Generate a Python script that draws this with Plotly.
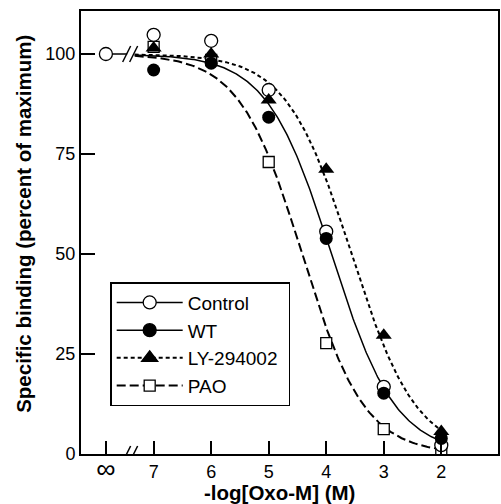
import numpy as np
import plotly.graph_objects as go

# ---- data ----
conc = [7, 6, 5, 4, 3, 2]            # -log[Oxo-M] (M)
inf_pos = 7.83                        # axis position used for "∞" (no agonist)
tick_vals = [7.83, 7, 6, 5, 4, 3, 2]
tick_text = ["<span style='font-size:27px'>∞</span>", "7", "6", "5", "4", "3", "2"]
y_ticks = [0, 25, 50, 75, 100]

control_inf = 100
control = [104.8, 103.3, 91.0, 55.6, 16.8, 2.2]
wt = [96.0, 97.7, 84.2, 53.9, 15.2, 3.9]
ly = [101.5, 100.0, 88.5, 71.2, 29.7, 5.6]
pao = [101.8, 98.5, 73.0, 27.7, 6.2, 1.2]

# fitted logistic curves: solid (Control/WT), dotted (LY-294002), dashed (PAO)
fit_pic50 = [3.91, 3.56, 4.42]
fit_hill = [0.774, 0.77, 0.80]
fit_dash = ["solid", "4px,3px", "9px,4px"]
fit_width = [1.5, 2, 2]

break_x = 7.40
curve_start = 7.33

FONT = "Liberation Sans, Arial, sans-serif"

fig = go.Figure()

# pre-break segment from the "∞" point
fig.add_trace(go.Scatter(x=[inf_pos, 7.46], y=[control_inf, control_inf], mode="lines",
                         line=dict(color="black", width=1.5), showlegend=False, hoverinfo="skip"))

xs = np.linspace(curve_start, 2, 300)
for p, n, d, w in zip(fit_pic50, fit_hill, fit_dash, fit_width):
    ys = 100.0 / (1.0 + 10 ** (n * (p - xs)))
    fig.add_trace(go.Scatter(x=xs, y=ys, mode="lines",
                             line=dict(color="black", width=w, dash=d),
                             showlegend=False, hoverinfo="skip"))

# markers
fig.add_trace(go.Scatter(x=conc, y=pao, mode="markers", showlegend=False,
                         marker=dict(symbol="square", size=11, color="white",
                                     line=dict(color="black", width=1.3))))
fig.add_trace(go.Scatter(x=[inf_pos] + conc, y=[control_inf] + control, mode="markers", showlegend=False,
                         marker=dict(symbol="circle", size=13, color="white",
                                     line=dict(color="black", width=1.3))))
fig.add_trace(go.Scatter(x=conc, y=ly, mode="markers", showlegend=False,
                         marker=dict(symbol="triangle-up", size=14, color="black",
                                     line=dict(color="black", width=0))))
fig.add_trace(go.Scatter(x=conc, y=wt, mode="markers", showlegend=False,
                         marker=dict(symbol="circle", size=13, color="black",
                                     line=dict(color="black", width=0))))

# legend entries
leg = [
    ("Control", "solid", 1.5, "circle", "white", 13),
    ("WT", "solid", 1.5, "circle", "black", 13),
    ("LY-294002\u00a0", "4px,3px", 2, "triangle-up", "black", 14),
    ("PAO", "9px,4px", 2, "square", "white", 11),
]
for i, (name, d, w, sym, col, sz) in enumerate(leg):
    fig.add_trace(go.Scatter(x=[None], y=[None], mode="lines+markers", name=name,
                             legendrank=i + 1,
                             line=dict(color="black", width=w, dash=d),
                             marker=dict(symbol=sym, size=sz, color=col,
                                         line=dict(color="black", width=1.3))))

# break marks
shapes = []
for yanc in (100, 0):
    for off in (-4, 3):
        shapes.append(dict(type="line", xref="x", yref="y", xsizemode="pixel", ysizemode="pixel",
                           xanchor=break_x, yanchor=yanc,
                           x0=off - 4, x1=off + 4, y0=-8, y1=8,
                           line=dict(color="black", width=1.5), layer="above"))

annotations = [
    dict(text="<b>Specific binding (percent of maximum)</b>", xref="paper", yref="paper",
         x=-0.1396, y=0.519, xanchor="center", yanchor="middle", textangle=-90,
         showarrow=False, font=dict(size=20.5, family=FONT)),
    dict(text="<b>-log[Oxo-M] (M)</b>", xref="paper", yref="paper",
         x=0.475, y=-0.0858, xanchor="center", yanchor="middle",
         showarrow=False, font=dict(size=20.5, family=FONT)),
]

fig.update_layout(
    width=501, height=504,
    margin=dict(l=81, r=1, t=11, b=50),
    paper_bgcolor="white", plot_bgcolor="white",
    font=dict(family=FONT, color="black", size=18),
    shapes=shapes, annotations=annotations,
    legend=dict(x=0.07, y=0.388, xanchor="left", yanchor="top",
                bordercolor="black", borderwidth=1.5, bgcolor="white",
                font=dict(size=19, family=FONT), itemwidth=66,
                tracegroupgap=0),
    xaxis=dict(range=[8.263, 1.014], tickvals=tick_vals, ticktext=tick_text,
               ticks="inside", ticklen=13, tickwidth=1.5, tickcolor="black",
               showline=True, linewidth=2, linecolor="black", mirror=True,
               showgrid=False, zeroline=False,
               tickfont=dict(size=18, family=FONT)),
    yaxis=dict(range=[0, 110.75], tickvals=y_ticks,
               ticks="inside", ticklen=14, tickwidth=1.5, tickcolor="black",
               showline=True, linewidth=2, linecolor="black", mirror=True,
               showgrid=False, zeroline=False,
               tickfont=dict(size=18, family=FONT)),
)

fig.write_html("out.html")
